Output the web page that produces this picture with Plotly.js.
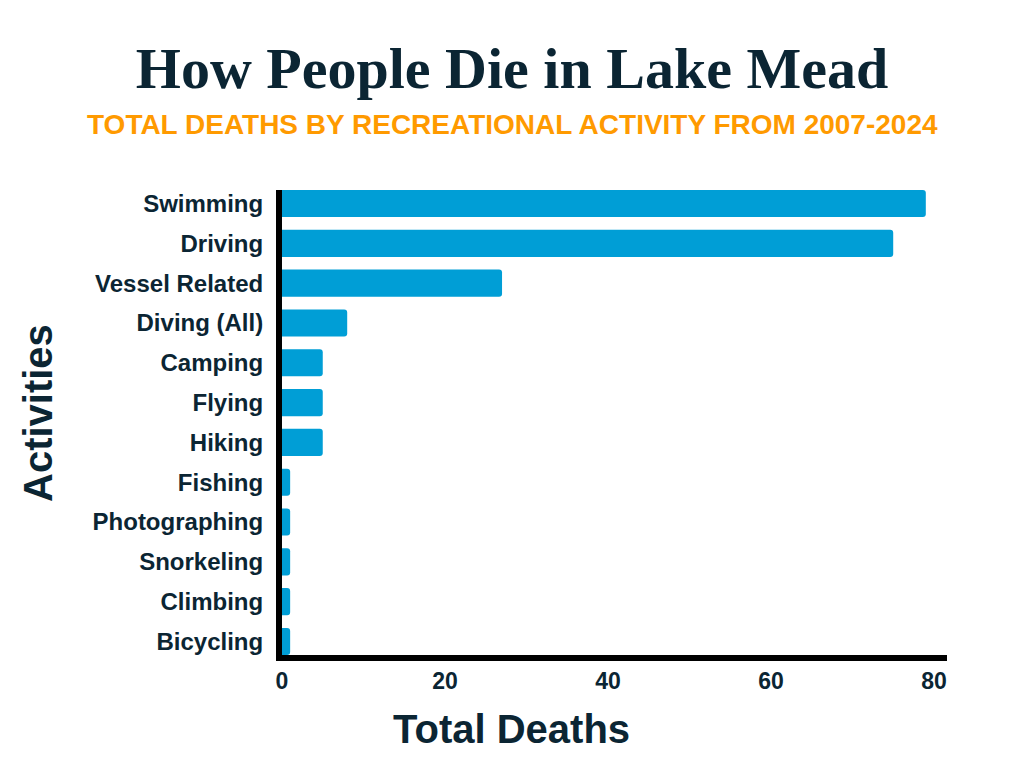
<!DOCTYPE html>
<html>
<head>
<meta charset="utf-8">
<script src="https://cdn.plot.ly/plotly-3.0.1.min.js"></script>
<style>html,body{margin:0;padding:0;background:#fff;}#chart{width:1024px;height:768px;}</style>
</head>
<body>
<div id="chart"></div>
<script>
const activities = ["Swimming","Driving","Vessel Related","Diving (All)","Camping","Flying","Hiking","Fishing","Photographing","Snorkeling","Climbing","Bicycling"];
const deaths = [79, 75, 27, 8, 5, 5, 5, 1, 1, 1, 1, 1];
const xTicks = [0, 20, 40, 60, 80];

const navy = "#0b2533";
const L = 282, R = 947, T = 190, B = 655;
const W = R - L, H = B - T;
const px = v => (v - L) / W;
const py = v => (B - v) / H;

const trace = {
  type: "bar",
  orientation: "h",
  y: activities,
  x: deaths,
  marker: {color: "#009ed6", cornerradius: 3},
  hoverinfo: "none"
};
const layout = {
  width: 1024, height: 768,
  margin: {l: L, r: 1024 - R, t: T, b: 768 - B},
  paper_bgcolor: "#fff", plot_bgcolor: "#fff",
  showlegend: false,
  bargap: 0.32,
  title: {
    text: "How People Die in Lake Mead",
    font: {family: "Liberation Serif", size: 58, color: navy, weight: 700},
    x: 0.5, xref: "container", xanchor: "center",
    y: 1 - 68/768, yref: "container", yanchor: "middle"
  },
  xaxis: {
    range: [0, 81.6],
    tickvals: xTicks,
    ticktext: xTicks.map(String),
    showgrid: false, zeroline: false,
    showline: true, linecolor: "#000", linewidth: 6,
    ticks: "", ticklabelstandoff: 0,
    tickfont: {family: "Liberation Sans", size: 23, color: navy, weight: 700},
    fixedrange: true
  },
  yaxis: {
    range: [11.34, -0.34],
    showgrid: false, zeroline: false,
    showline: true, linecolor: "#000", linewidth: 6,
    ticks: "", ticklabelstandoff: 8,
    tickfont: {family: "Liberation Sans", size: 24, color: navy, weight: 700},
    fixedrange: true
  },
  annotations: [
    {text: "TOTAL DEATHS BY RECREATIONAL ACTIVITY FROM 2007-2024", xref: "paper", yref: "paper",
     x: px(512), y: py(125), xanchor: "center", yanchor: "middle", showarrow: false,
     font: {family: "Liberation Sans", size: 28, color: "#ff9a00", weight: 700}},
    {text: "Total Deaths", xref: "paper", yref: "paper",
     x: px(511), y: py(729), xanchor: "center", yanchor: "middle", showarrow: false,
     font: {family: "Liberation Sans", size: 40, color: navy, weight: 700}},
    {text: "Activities", xref: "paper", yref: "paper", textangle: -90,
     x: px(38), y: py(413), xanchor: "center", yanchor: "middle", showarrow: false,
     font: {family: "Liberation Sans", size: 40, color: navy, weight: 700}}
  ]
};
Plotly.newPlot("chart", [trace], layout, {displayModeBar: false, staticPlot: true});
</script>
</body>
</html>
